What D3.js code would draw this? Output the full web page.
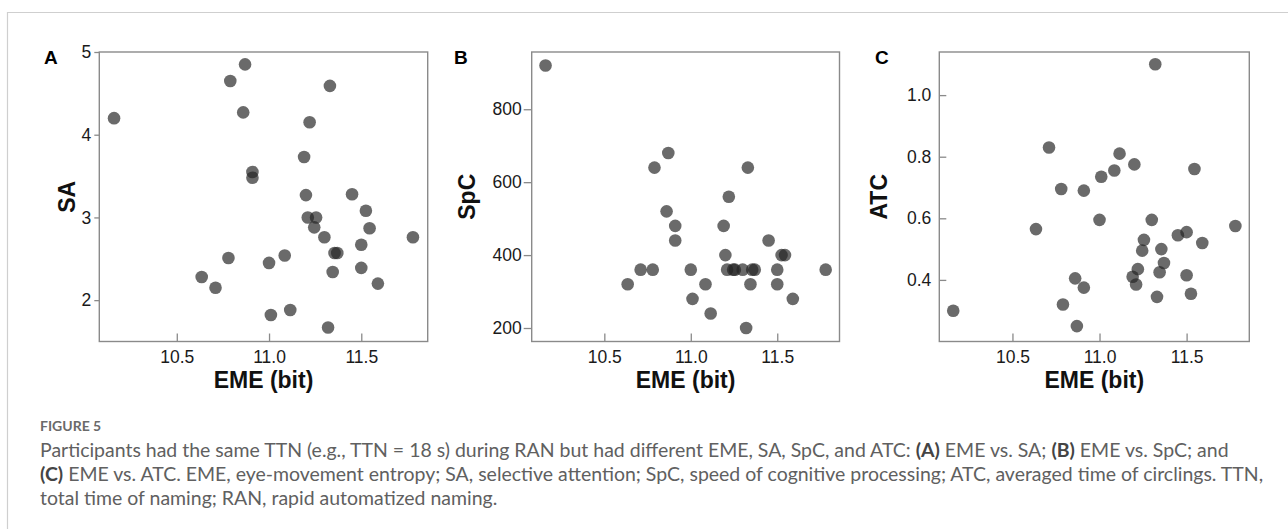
<!DOCTYPE html>
<html>
<head>
<meta charset="utf-8">
<script src="https://cdn.jsdelivr.net/npm/d3@7"></script>
<style>
  body { margin: 0; background: #fff; }
  svg { display: block; }
</style>
</head>
<body>
<div id="container"></div>
<script>
'use strict';

// EME (bit) of each participant, same order in every panel
var eme = [10.16, 10.87, 10.79, 10.86, 11.33, 11.22, 11.19, 10.91, 10.91, 11.20, 11.45,
           11.21, 11.255, 11.245, 11.525, 11.545, 11.30, 11.78, 11.50, 11.355, 11.37,
           11.345, 11.50, 11.59, 10.78, 10.635, 10.71, 11.00, 11.085, 11.01, 11.115, 11.32];
var sa  = [4.20, 4.85, 4.65, 4.27, 4.59, 4.15, 3.73, 3.55, 3.48, 3.27, 3.28,
           3.00, 3.00, 2.88, 3.08, 2.87, 2.76, 2.76, 2.67, 2.57, 2.57,
           2.34, 2.39, 2.20, 2.51, 2.28, 2.15, 2.45, 2.54, 1.82, 1.88, 1.67];
var spc = [920, 680, 640, 520, 640, 560, 480, 480, 440, 400, 440,
           360, 360, 360, 400, 400, 360, 360, 360, 360, 360,
           320, 320, 280, 360, 320, 360, 360, 320, 280, 240, 200];
var atc = [0.30, 0.25, 0.32, 0.405, 0.345, 0.435, 0.41, 0.69, 0.375, 0.775, 0.545,
           0.385, 0.53, 0.495, 0.355, 0.76, 0.595, 0.575, 0.555, 0.50, 0.455,
           0.425, 0.415, 0.52, 0.695, 0.565, 0.83, 0.595, 0.755, 0.735, 0.81, 1.10];

var xTicks = [10.5, 11.0, 11.5];
var saTicks = [2, 3, 4, 5];
var spcTicks = [200, 400, 600, 800];
var atcTicks = [0.4, 0.6, 0.8, 1.0];

var W = 1288, H = 529;
var top_ = 52, bottom = 341.5;
var frameColor = '#8a8a8a';
var sans = 'Liberation Sans, Arial, sans-serif';

var svg = d3.select('#container')
    .append('svg')
        .attr('width', W)
        .attr('height', H)
        .style('background', '#fff');

// outer figure border (top + left)
svg.append('path')
    .attr('d', 'M7.5,529 V12.5 H1288')
    .attr('fill', 'none')
    .attr('stroke', '#cfcfcf')
    .attr('stroke-width', 1.2);

var panels = [
    {letter: 'A', lx: 44, left: 99.3, right: 427.7, yDomain: [1.5, 5.0], ticks: saTicks, fmt: d3.format('d'),
     values: sa, label: 'SA', labelX: 75, tick: 5, pad: 3},
    {letter: 'B', lx: 454, left: 531.7, right: 839.5, yDomain: [163, 957], ticks: spcTicks, fmt: d3.format('d'),
     values: spc, label: 'SpC', labelX: 475, tick: 8, pad: 2},
    {letter: 'C', lx: 875, left: 939.3, right: 1249.3, yDomain: [0.2, 1.14], ticks: atcTicks, fmt: d3.format('.1f'),
     values: atc, label: 'ATC', labelX: 887, tick: -7, pad: 8}
];

panels.forEach(function(p) {
    var x = d3.scaleLinear().domain([10.08, 11.86]).range([p.left, p.right]);
    var y = d3.scaleLinear().domain(p.yDomain).range([bottom, top_]);
    var g = svg.append('g').attr('class', 'panel');

    var xAxis = g.append('g')
        .attr('transform', 'translate(0,' + bottom + ')')
        .call(d3.axisBottom(x).tickValues(xTicks).tickFormat(d3.format('.1f'))
            .tickSizeInner(-8).tickSizeOuter(0).tickPadding(9));
    var yAxis = g.append('g')
        .attr('transform', 'translate(' + p.left + ',0)')
        .call(d3.axisLeft(y).tickValues(p.ticks).tickFormat(p.fmt)
            .tickSizeInner(p.tick).tickSizeOuter(0).tickPadding(p.pad));

    [xAxis, yAxis].forEach(function(a) {
        a.select('.domain').remove();
        a.selectAll('line').attr('stroke', frameColor).attr('stroke-width', 1.3);
        a.selectAll('text')
            .attr('fill', '#1a1a1a')
            .style('font-family', sans)
            .style('font-size', '17.5px');
    });

    g.append('rect')
        .attr('x', p.left).attr('y', top_)
        .attr('width', p.right - p.left).attr('height', bottom - top_)
        .attr('fill', 'none')
        .attr('stroke', frameColor)
        .attr('stroke-width', 1.4);

    g.selectAll('circle').data(eme).enter()
        .append('circle')
            .attr('cx', function(d) { return x(d) })
            .attr('cy', function(d, i) { return y(p.values[i]) })
            .attr('r', 6.3)
            .attr('fill', '#232323')
            .attr('fill-opacity', 0.68);

    g.append('text')
        .attr('x', p.lx).attr('y', 64)
        .style('font-family', sans)
        .style('font-weight', 'bold')
        .style('font-size', '19px')
        .attr('fill', '#000')
        .text(p.letter);

    g.append('text')
        .attr('x', (p.left + p.right) / 2).attr('y', 388)
        .attr('text-anchor', 'middle')
        .style('font-family', sans)
        .style('font-weight', 'bold')
        .style('font-size', '23px')
        .attr('fill', '#111')
        .text('EME (bit)');

    g.append('text')
        .attr('transform', 'translate(' + p.labelX + ',' + ((top_ + bottom) / 2) + ') rotate(-90)')
        .attr('text-anchor', 'middle')
        .style('font-family', sans)
        .style('font-weight', 'bold')
        .style('font-size', '23px')
        .attr('fill', '#111')
        .text(p.label);
});

// caption
svg.append('text')
    .attr('x', 40).attr('y', 431)
    .style('font-family', 'Lato, sans-serif')
    .style('font-weight', 'bold')
    .style('font-size', '14px')
    .attr('fill', '#6a6a6a')
    .text('FIGURE 5');

var captionLines = [
    [['Participants had the same TTN (e.g., TTN = 18 s) during RAN but had different EME, SA, SpC, and ATC: ', 0],
     ['(A)', 1], [' EME vs. SA; ', 0], ['(B)', 1], [' EME vs. SpC; and', 0]],
    [['(C)', 1], [' EME vs. ATC. EME, eye-movement entropy; SA, selective attention; SpC, speed of cognitive processing; ATC, averaged time of circlings. TTN,', 0]],
    [['total time of naming; RAN, rapid automatized naming.', 0]]
];

var capFont = 17;
var cap = svg.append('g')
    .style('font-family', 'Lato, sans-serif')
    .style('font-size', capFont + 'px')
    .attr('fill', '#606060');

var lineNodes = captionLines.map(function(parts, li) {
    var t = cap.append('text').attr('x', 40).attr('y', 457 + li * 24);
    parts.forEach(function(part) {
        t.append('tspan')
            .style('font-weight', part[1] ? 'bold' : 'normal')
            .attr('fill', part[1] ? '#444' : null)
            .text(part[0]);
    });
    return t;
});

// fit the caption's font size to the width of its second line
var w2 = lineNodes[1].node().getComputedTextLength();
cap.style('font-size', (capFont * 1224 / w2) + 'px');
</script>
</body>
</html>
